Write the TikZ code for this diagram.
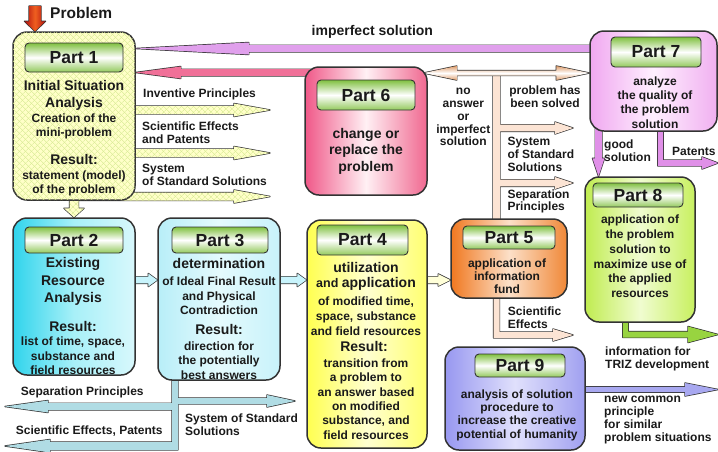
\documentclass[tikz,border=0pt]{standalone}
\usepackage{fontspec}
\setmainfont{Liberation Sans}
\usetikzlibrary{calc,patterns.meta}
\pgfdeclarelayer{bg}
\pgfsetlayers{bg,main}

\definecolor{edge}{HTML}{333333}
\definecolor{ink}{HTML}{1A1A1A}
\definecolor{hgreen}{HTML}{80C040}
\definecolor{p1fill}{HTML}{FFFFC8}
\definecolor{hatch}{HTML}{D4E890}
\definecolor{p2l}{HTML}{30D4EC}\definecolor{p2m}{HTML}{A8F0F8}\definecolor{p2r}{HTML}{D8F8FC}
\definecolor{p3l}{HTML}{B8EEF8}\definecolor{p3m}{HTML}{E4FAFD}\definecolor{p3r}{HTML}{C8F2FA}
\definecolor{p4l}{HTML}{FFFF50}\definecolor{p4m}{HTML}{FFFFD0}\definecolor{p4r}{HTML}{FFFF70}
\definecolor{p5l}{HTML}{F07820}\definecolor{p5m}{HTML}{FCE0C8}\definecolor{p5r}{HTML}{F08838}
\definecolor{p6l}{HTML}{F05888}\definecolor{p6m}{HTML}{FFF0F4}\definecolor{p6r}{HTML}{F06890}
\definecolor{p7l}{HTML}{F0A8F0}\definecolor{p7m}{HTML}{FFF0FF}\definecolor{p7r}{HTML}{F0B0F0}
\definecolor{p8l}{HTML}{C0EC50}\definecolor{p8m}{HTML}{F0FCD0}\definecolor{p8r}{HTML}{C8F060}
\definecolor{p9l}{HTML}{9898F0}\definecolor{p9m}{HTML}{E0E0FC}\definecolor{p9r}{HTML}{A0A0F0}
\definecolor{violeta}{HTML}{E0A0EC}
\definecolor{pinka}{HTML}{F07098}
\definecolor{tana}{HTML}{E0A070}
\definecolor{tanlight}{HTML}{FCE4D4}
\definecolor{violetb}{HTML}{E090E8}
\definecolor{greena}{HTML}{98D440}
\definecolor{lava}{HTML}{A8A8F0}
\definecolor{greycyan}{HTML}{B0DCE4}
\definecolor{cyana}{HTML}{C8F4FC}
\definecolor{yela}{HTML}{FFFFD8}
\definecolor{probred}{HTML}{B01010}
\definecolor{probmid}{HTML}{F06020}

\tikzset{
  partbox/.style={draw=edge, line width=1.5pt, rounded corners=14pt, inner sep=0pt},
  hatchbox/.style={fill=p1fill,
    postaction={pattern={Lines[angle=45,distance=4pt,line width=.5pt]}, pattern color=hatch},
    postaction={pattern={Lines[angle=-45,distance=4pt,line width=.5pt]}, pattern color=hatch}},
  hdr/.style={draw=edge, line width=0.9pt, rounded corners=4pt, top color=hgreen,
    bottom color=hgreen!85, middle color=white, text=ink,
    font=\bfseries\fontsize{17.5}{20}\selectfont},
  txt/.style={font=\bfseries\fontsize{12}{14.5}\selectfont, align=center, inner sep=0pt, text=ink},
  big/.style={font=\bfseries\fontsize{14}{17}\selectfont, align=center, inner sep=0pt, text=ink},
  lbl/.style={font=\bfseries\fontsize{12}{13}\selectfont, align=left, anchor=west, inner sep=0pt, text=ink},
  pipe/.style={preaction={draw=edge, line width=1.4pt, line join=round}},
  fat/.style n args={3}{to path={let \p1=(\tikztostart), \p2=(\tikztotarget),
      \n1={veclen(\x2-\x1,\y2-\y1)}, \n2={(\x2-\x1)/\n1}, \n3={(\y2-\y1)/\n1} in
      ({\x1-(\n3)*(#1)},{\y1+(\n2)*(#1)})
      -- ({\x2-(\n2)*(#3)-(\n3)*(#1)},{\y2-(\n3)*(#3)+(\n2)*(#1)})
      -- ({\x2-(\n2)*(#3)-(\n3)*(#2)},{\y2-(\n3)*(#3)+(\n2)*(#2)})
      -- (\p2)
      -- ({\x2-(\n2)*(#3)+(\n3)*(#2)},{\y2-(\n3)*(#3)-(\n2)*(#2)})
      -- ({\x2-(\n2)*(#3)+(\n3)*(#1)},{\y2-(\n3)*(#3)-(\n2)*(#1)})
      -- ({\x1+(\n3)*(#1)},{\y1-(\n2)*(#1)}) -- cycle}},
  fatboth/.style n args={3}{to path={let \p1=(\tikztostart), \p2=(\tikztotarget),
      \n1={veclen(\x2-\x1,\y2-\y1)}, \n2={(\x2-\x1)/\n1}, \n3={(\y2-\y1)/\n1} in
      (\p1)
      -- ({\x1+(\n2)*(#3)-(\n3)*(#2)},{\y1+(\n3)*(#3)+(\n2)*(#2)})
      -- ({\x1+(\n2)*(#3)-(\n3)*(#1)},{\y1+(\n3)*(#3)+(\n2)*(#1)})
      -- ({\x2-(\n2)*(#3)-(\n3)*(#1)},{\y2-(\n3)*(#3)+(\n2)*(#1)})
      -- ({\x2-(\n2)*(#3)-(\n3)*(#2)},{\y2-(\n3)*(#3)+(\n2)*(#2)})
      -- (\p2)
      -- ({\x2-(\n2)*(#3)+(\n3)*(#2)},{\y2-(\n3)*(#3)-(\n2)*(#2)})
      -- ({\x2-(\n2)*(#3)+(\n3)*(#1)},{\y2-(\n3)*(#3)-(\n2)*(#1)})
      -- ({\x1+(\n2)*(#3)+(\n3)*(#1)},{\y1+(\n3)*(#3)-(\n2)*(#1)})
      -- ({\x1+(\n2)*(#3)+(\n3)*(#2)},{\y1+(\n3)*(#3)-(\n2)*(#2)}) -- cycle}},
  fatbar/.style={to path={let \p1=(\tikztostart), \p2=(\tikztotarget),
      \n1={veclen(\x2-\x1,\y2-\y1)}, \n2={(\x2-\x1)/\n1}, \n3={(\y2-\y1)/\n1} in
      ({\x1-(\n3)*(#1)},{\y1+(\n2)*(#1)}) -- ({\x2-(\n3)*(#1)},{\y2+(\n2)*(#1)})
      -- ({\x2+(\n3)*(#1)},{\y2-(\n2)*(#1)}) -- ({\x1+(\n3)*(#1)},{\y1-(\n2)*(#1)}) -- cycle}},
}

\begin{document}
\begin{tikzpicture}[x=1pt,y=-1pt]
\useasboundingbox (0,0) rectangle (718,451);

% part boxes
\node[partbox, hatchbox, minimum width=122pt, minimum height=168pt] (p1) at (74,116) {};
\node[partbox, left color=p2l, right color=p2r, middle color=p2m, minimum width=122pt, minimum height=157pt] (p2) at (74,296.5) {};
\node[partbox, left color=p3l, right color=p3r, middle color=p3m, minimum width=122pt, minimum height=162pt] (p3) at (219,299) {};
\node[partbox, left color=p4l, right color=p4r, middle color=p4m, minimum width=120pt, minimum height=228pt] (p4) at (367,334) {};
\node[partbox, left color=p5l, right color=p5r, middle color=p5m, minimum width=116pt, minimum height=79pt] (p5) at (509,258.5) {};
\node[partbox, left color=p6l, right color=p6r, middle color=p6m, minimum width=122pt, minimum height=128pt] (p6) at (366,131) {};
\node[partbox, left color=p7l, right color=p7r, middle color=p7m, minimum width=127pt, minimum height=100pt] (p7) at (653.5,81) {};
\node[partbox, left color=p8l, right color=p8r, middle color=p8m, minimum width=110pt, minimum height=145pt] (p8) at (640,249.5) {};
\node[partbox, left color=p9l, right color=p9r, middle color=p9m, minimum width=140pt, minimum height=103pt] (p9) at (515,398.5) {};

% headers
\node[hdr, minimum width=98pt, minimum height=29pt] (h1) at (74,57.5) {Part 1};
\node[hdr, minimum width=98pt, minimum height=26pt] (h2) at (74,240) {Part 2};
\node[hdr, minimum width=96pt, minimum height=26pt] (h3) at (220,240) {Part 3};
\node[hdr, minimum width=91pt, minimum height=30pt] (h4) at (362.5,240) {Part 4};
\node[hdr, minimum width=92pt, minimum height=23pt] (h5) at (509,237.5) {Part 5};
\node[hdr, minimum width=98pt, minimum height=30pt] (h6) at (366,95) {Part 6};
\node[hdr, minimum width=90pt, minimum height=30pt] (h7) at (656,52) {Part 7};
\node[hdr, minimum width=90pt, minimum height=24pt] (h8) at (638,195) {Part 8};
\node[hdr, minimum width=90pt, minimum height=23pt] (h9) at (520,365.5) {Part 9};

% box texts
\node[big] (t1a) at (74,95) {Initial Situation\\Analysis};
\node[txt, font=\bfseries\fontsize{12}{14}\selectfont] (t1b) at (74,126) {Creation of the\\mini-problem};
\node[big] (t1c) at (74,159) {Result:};
\node[txt, font=\bfseries\fontsize{12}{14}\selectfont] (t1d) at (74,183) {statement (model)\\of the problem};

\node[big, font=\bfseries\fontsize{14}{17.5}\selectfont] (t2a) at (73,281.5) {Existing\\Resource\\Analysis};
\node[big] (t2b) at (73,326.5) {Result:};
\node[txt, font=\bfseries\fontsize{12}{14.5}\selectfont] (t2c) at (73,356) {list of time, space,\\substance and\\field resources};

\node[big] (t3a) at (219,263) {determination};
\node[txt] (t3b) at (219,296) {of Ideal Final Result\\and Physical\\Contradiction};
\node[big] (t3c) at (219,329) {Result:};
\node[txt] (t3d) at (219,360.5) {direction for\\the potentially\\best answers};

\node[big] (t4a) at (366,267) {utilization};
\node[txt] (t4b) at (366,284) {{\fontsize{12.5}{14}\selectfont and }{\fontsize{14}{16}\selectfont application}};
\node[txt, font=\bfseries\fontsize{12}{15}\selectfont] (t4c) at (366,316) {of modified time,\\space, substance\\and field resources};
\node[big] (t4d) at (364,346) {Result:};
\node[txt, font=\bfseries\fontsize{12}{14.4}\selectfont] (t4e) at (366,399) {transition from\\a problem to\\an answer based\\on modified\\substance, and\\field resources};

\node[txt, font=\bfseries\fontsize{12}{13}\selectfont] (t5) at (507,276) {application of\\information\\fund};
\node[big, font=\bfseries\fontsize{14}{16.5}\selectfont] (t6) at (366,151) {change or\\replace the\\problem};
\node[txt, font=\bfseries\fontsize{12}{14.3}\selectfont] (t7) at (655,102.5) {analyze\\the quality of\\the problem\\solution};
\node[txt, font=\bfseries\fontsize{12}{14.8}\selectfont] (t8) at (640,256.5) {application of\\the problem\\solution to\\maximize use of\\the applied\\resources};
\node[txt, font=\bfseries\fontsize{12}{13.3}\selectfont] (t9) at (517,415) {analysis of solution\\procedure to\\increase the creative\\potential of humanity};

% connectors
\begin{pgfonlayer}{bg}
\coordinate (prob) at (35,6);
\path[pipe, left color=probred, right color=probred, middle color=probmid]
  (prob) to[fat={6pt}{10.5pt}{10pt}] (prob |- p1.north);
\coordinate (imp) at (300,48.5);
\path[pipe, fill=violeta] (p7.center |- imp) to[fat={3.3pt}{6pt}{113pt}] (p1.east |- imp);
\coordinate (chg) at (300,72.5);
\path[pipe, fill=pinka] (p6.center |- chg) to[fat={3.3pt}{6pt}{45pt}] (p1.east |- chg);
\foreach \y/\name in {110/inv, 153/sci, 196.5/std}{
  \coordinate (\name) at (270,\y);
  \path[pipe, hatchbox] (p1.center |- \name) to[fat={4pt}{6.5pt}{36pt}] (\name);
}
\path[pipe, hatchbox] (p1.center) to[fat={4.5pt}{10pt}{9pt}] (p1.center |- p2.north);
\coordinate (row) at (0,280);
\path[pipe, fill=cyana] (p2.center |- row) to[fat={3.3pt}{6.5pt}{9pt}] (p3.west |- row);
\path[pipe, fill=cyana] (p3.center |- row) to[fat={3.3pt}{6.5pt}{9pt}] (p4.west |- row);
\path[pipe, fill=yela] (p4.center |- row) to[fat={3.3pt}{6pt}{12pt}] (p5.west |- row);
% resources bar
\coordinate (bar) at (496.5,73);
\coordinate (br1) at (573,128);
\coordinate (br2) at (573,183);
\path[pipe, fill=tanlight] (bar) to[fatbar={3.5pt}] (bar |- p5.center)
  (bar |- br1) to[fat={3.3pt}{6pt}{18pt}] (br1)
  (bar |- br2) to[fat={3.3pt}{6pt}{18pt}] (br2);
\coordinate (sef) at (573,335);
\coordinate (sefb) at (496.5,338);
\path[pipe, fill=tanlight] (bar |- p5.center) to[fatbar={3pt}] (sefb)
  (sefb |- sef) to[fat={3pt}{6pt}{20pt}] (sef);
\coordinate (res) at (0,73);
\path[pipe, top color=tana, bottom color=tana, middle color=white]
  ($(p6.east |- res)+(-4,0)$) to[fatboth={2.5pt}{7pt}{33pt}] (p7.west |- res);
% part 7 outputs
\coordinate (good) at (598.5,0);
\path[pipe, fill=violetb] (good |- p7.center) to[fat={3.3pt}{6pt}{18pt}] (good |- p8.north);
\coordinate (pat) at (718,163);
\coordinate (patb) at (660.5,166);
\path[pipe, fill=violetb] (patb |- p7.center) to[fatbar={2.7pt}] (patb)
  (patb |- pat) to[fat={3pt}{6pt}{16pt}] (pat);
% part 8 and 9 outputs
\coordinate (triz) at (718,334.5);
\coordinate (trizb) at (625.5,337.5);
\path[pipe, fill=greena] (trizb |- p8.center) to[fatbar={2.7pt}] (trizb)
  (trizb |- triz) to[fat={3pt}{8pt}{30pt}] (triz);
\coordinate (newp) at (718,389.5);
\path[pipe, fill=lava] (p9.center |- newp) to[fat={2.7pt}{6.5pt}{33pt}] (newp);
% part 3 outputs
\coordinate (sepl) at (5,406.5);
\coordinate (scil) at (5,446);
\coordinate (stdr) at (295,401);
\coordinate (lbar) at (175,450);
\path[pipe, fill=greycyan] (lbar |- p3.center) to[fatbar={3pt}] (lbar)
  (lbar |- sepl) to[fat={3.3pt}{6pt}{43pt}] (sepl)
  (lbar |- scil) to[fat={4pt}{6.5pt}{45pt}] (scil)
  (lbar |- stdr) to[fat={3pt}{6pt}{28pt}] (stdr);
\end{pgfonlayer}

% connector labels
\node[lbl, font=\bfseries\fontsize{15.5}{18}\selectfont] (lprob) at (50,13.3) {Problem};
\node[lbl, font=\bfseries\fontsize{14}{17}\selectfont] (limp) at (311.5,31.7) {imperfect solution};
\node[lbl] (linv) at (143,94.3) {Inventive Principles};
\node[lbl, font=\bfseries\fontsize{12}{12.5}\selectfont] (lsci) at (142,132.7) {Scientific Effects\\and Patents};
\node[lbl] (lstd) at (142,175) {System\\of Standard Solutions};
\node[txt, font=\bfseries\fontsize{12}{12.9}\selectfont] (lno) at (463.3,117) {no\\answer\\or\\imperfect\\solution};
\node[txt, font=\bfseries\fontsize{12}{12.5}\selectfont] (lsolved) at (545,96.8) {problem has\\been solved};
\node[lbl] (lstd2) at (507.3,154.3) {System\\of Standard\\Solutions};
\node[lbl, font=\bfseries\fontsize{12}{12}\selectfont] (lsep2) at (507.3,201.3) {Separation\\Principles};
\node[lbl] (lsci2) at (507.7,318) {Scientific\\Effects};
\node[lbl] (lgood) at (604,151.2) {good\\solution};
\node[lbl] (lpat) at (672,151) {Patents};
\node[lbl, font=\bfseries\fontsize{12}{12.7}\selectfont] (ltriz) at (605,359.2) {information for\\TRIZ development};
\node[lbl, font=\bfseries\fontsize{12}{13.1}\selectfont] (lnew) at (604,420.3) {new common\\principle\\for similar\\problem situations};
\node[lbl] (lsep) at (20.7,392) {Separation Principles};
\node[lbl] (lsci3) at (15.7,431.3) {Scientific Effects, Patents};
\node[lbl, font=\bfseries\fontsize{12}{12.5}\selectfont] (lstd3) at (185,424.7) {System of Standard\\Solutions};
\end{tikzpicture}
\end{document}
